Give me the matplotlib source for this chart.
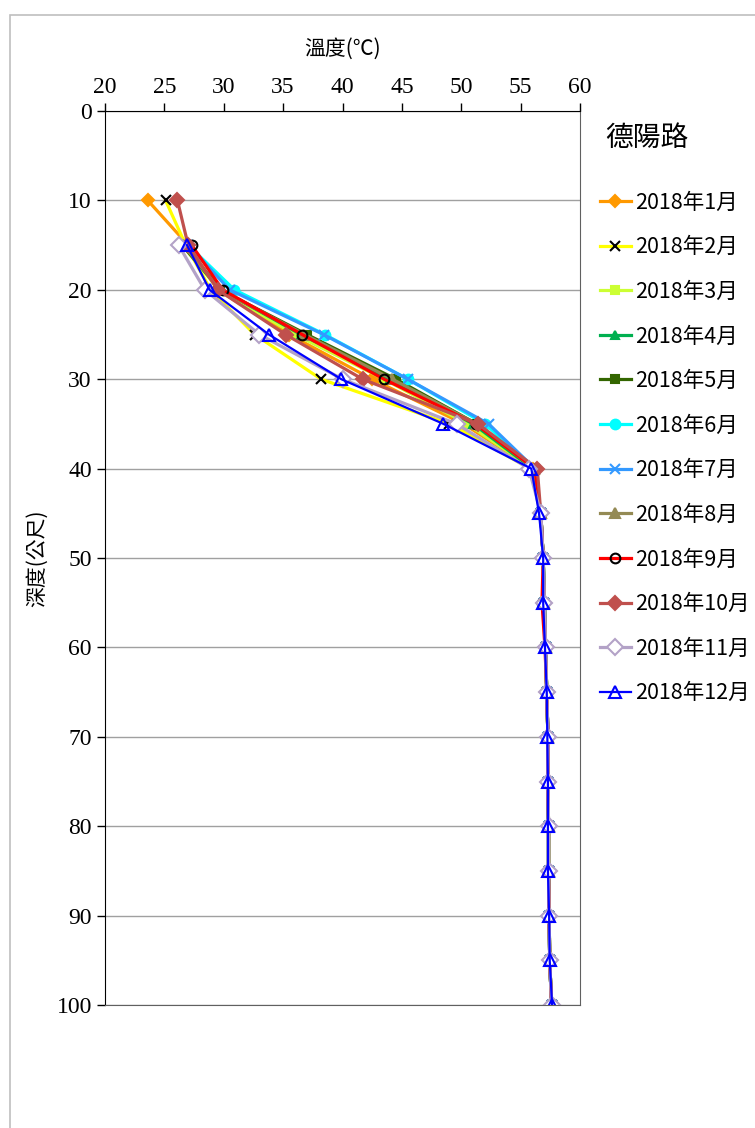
import numpy as np
import matplotlib
matplotlib.use("Agg")
import matplotlib.pyplot as plt
from matplotlib.patches import Rectangle

plt.rcParams['font.family'] = ['Noto Sans CJK TC', 'DejaVu Sans']

# 深度 (m)
depth = [10, 15, 20, 25, 30, 35, 40, 45, 50, 55, 60, 65, 70, 75, 80, 85, 90, 95, 100]

labels = ['2018年1月', '2018年2月', '2018年3月', '2018年4月', '2018年5月', '2018年6月',
          '2018年7月', '2018年8月', '2018年9月', '2018年10月', '2018年11月', '2018年12月']

nan = np.nan
tail = [56.7, 56.9, 57.0, 57.1, 57.2, 57.3, 57.3, 57.35, 57.35, 57.4, 57.45, 57.6]

jan = [23.6, 27.0, 29.5, 35.5, 42.5, 50.2, 56.0] + tail
feb = [25.1, 26.8, 28.9, 32.6, 38.2, 49.0, 55.8] + tail
mar = [nan, 26.5, 29.6, 36.0, 43.5, 50.5, 56.0] + tail
apr = [nan, 26.6, 29.8, 36.5, 44.0, 51.0, 56.0] + tail
may = [nan, 26.5, 29.7, 37.0, 44.5, 51.3, 56.1] + tail
jun = [nan, 27.0, 30.9, 38.5, 45.5, 52.0, 56.2] + tail
jul = [nan, 27.0, 30.5, 38.4, 45.5, 52.3, 56.2] + tail
aug = [nan, 26.6, 29.7, 36.8, 44.2, 51.3, 56.1] + tail
sep = [nan, 27.3, 29.9, 36.6, 43.5, 51.2, 56.2, 56.7, 56.9, 56.8, 57.05, 57.2, 57.3, 57.3, 57.35, 57.35, 57.4, 57.45, 57.6]
octo = [26.1, 27.0, 29.5, 35.2, 41.7, 51.4, 56.4] + tail
nov = [nan, 26.2, 28.4, 33.0, 40.0, 49.6, 55.7] + tail
dec = [nan, 26.9, 28.8, 33.8, 39.9, 48.5, 55.9, 56.55, 56.9, 56.9, 57.05, 57.2, 57.25, 57.3, 57.3, 57.3, 57.4, 57.45, 57.65]

series = [jan, feb, mar, apr, may, jun, jul, aug, sep, octo, nov, dec]

colors = ['#FF9900', '#FFFF00', '#CCFF33', '#00B050', '#336600', '#00FFFF',
          '#3399FF', '#948A54', '#FF0000', '#C0504D', '#B3A2C7', '#0000FF']
markers = ['D', 'x', 's', '^', 's', 'o', 'x', '^', 'o', 'D', 'D', '^']
mfc = ['#FF9900', 'k', '#CCFF33', '#00B050', '#336600', '#00FFFF',
       '#3399FF', '#948A54', 'none', '#C0504D', 'white', 'none']
mec = ['#FF9900', 'k', '#CCFF33', '#00B050', '#336600', '#00FFFF',
       '#3399FF', '#948A54', 'k', '#C0504D', '#B3A2C7', '#0000FF']
msize = [6, 7, 6, 6, 6, 7, 7, 7, 7, 7, 8, 9]
lws = [2.3, 2.3, 2.3, 2.3, 2.3, 2.3, 2.3, 2.3, 2.3, 2.3, 2.3, 1.6]

fig = plt.figure(figsize=(7.55, 11.28), dpi=100)
fig.patches.append(Rectangle((10 / 755, -0.1), 2, 1.1 - 15 / 1128, transform=fig.transFigure,
                             fill=False, edgecolor='#BFBFBF', lw=1.2))

ax = fig.add_axes([105 / 755, 1 - 1005 / 1128, 475 / 755, 894 / 1128])

for i in range(12):
    ax.plot(series[i], depth, color=colors[i], lw=lws[i], marker=markers[i],
            markersize=msize[i], markerfacecolor=mfc[i], markeredgecolor=mec[i],
            markeredgewidth=1.5, label=labels[i])

ax.set_xlim(20, 60)
ax.set_ylim(100, 0)
ax.set_xticks(np.arange(20, 61, 5))
ax.set_yticks(np.arange(0, 101, 10))
ax.xaxis.tick_top()
ax.xaxis.set_label_position('top')
ax.tick_params(axis='both', labelsize=17, length=6, width=1)
for t in ax.get_xticklabels() + ax.get_yticklabels():
    t.set_fontfamily('Liberation Serif')
ax.grid(axis='y', color='#A0A0A0', lw=1)
ax.set_axisbelow(True)
for s in ['right', 'bottom']:
    ax.spines[s].set_color('#606060')

ax.set_xlabel('溫度(℃)', fontsize=15, labelpad=16)
ax.set_ylabel('深度(公尺)', fontsize=15, labelpad=6)

fig.text(605 / 755, 1 - 138 / 1128, '德陽路', fontsize=20, va='center', ha='left')

leg = ax.legend(loc='upper left', bbox_to_anchor=(591 / 755, 1 - 183 / 1128),
                bbox_transform=fig.transFigure, frameon=False, fontsize=15.5,
                handlelength=1.45, handletextpad=0.2,
                labelspacing=1.05, borderaxespad=0)

fig.savefig('out.png', dpi=100)
